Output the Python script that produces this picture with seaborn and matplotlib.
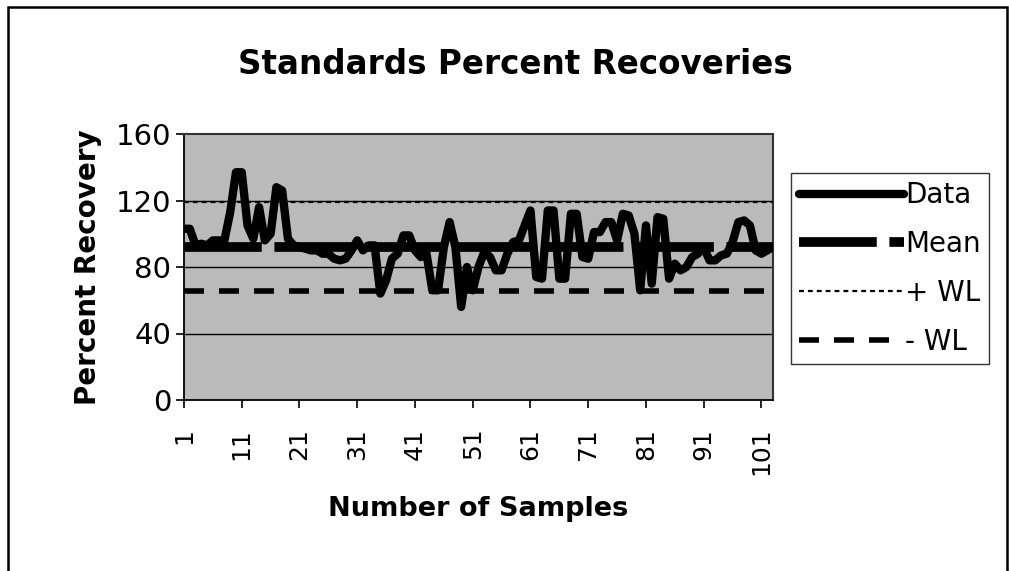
import numpy as np
import pandas as pd
import matplotlib
matplotlib.use("Agg")
import matplotlib.pyplot as plt
import seaborn as sns
from matplotlib.lines import Line2D
from matplotlib.patches import Rectangle

# ---- data ----
samples = list(range(1, 104))
recovery = [103, 103, 93, 94, 93, 96, 96, 96, 113, 137,
            137, 105, 97, 116, 96, 100, 128, 126, 97, 93,
            92, 91, 90, 90, 88, 88, 85, 84, 85, 90,
            96, 90, 93, 93, 64, 72, 85, 88, 99, 99,
            90, 86, 88, 66, 66, 92, 107, 92, 56, 80,
            66, 80, 89, 86, 78, 78, 88, 95, 96, 105,
            114, 74, 73, 114, 114, 73, 73, 112, 112, 86,
            85, 101, 101, 107, 107, 96, 112, 111, 100, 66,
            105, 70, 110, 109, 73, 82, 78, 80, 86, 88,
            92, 84, 84, 87, 88, 95, 107, 108, 105, 90,
            88, 90, 92]
mean_value = 92.3
plus_wl = 119.1
minus_wl = 65.5
y_ticks = [0, 40, 80, 120, 160]
x_tick_labels = [1, 11, 21, 31, 41, 51, 61, 71, 81, 91, 101]

df = pd.DataFrame({"Sample": samples, "Recovery": recovery})

sns.set_style("white")
plt.rcParams["font.family"] = ["DejaVu Sans"]
plt.rcParams["text.color"] = "black"
plt.rcParams["axes.labelcolor"] = "black"
plt.rcParams["xtick.color"] = "black"
plt.rcParams["ytick.color"] = "black"

fig = plt.figure(figsize=(10.09, 5.71), dpi=100)
ax = fig.add_axes([184 / 1009, 1 - 400 / 571, 589 / 1009, 266 / 571])
ax.set_facecolor("#bababa")

for g in [40, 80, 120]:
    ax.axhline(g, color="black", lw=1.0, zorder=1)

sns.lineplot(data=df, x="Sample", y="Recovery", color="black", lw=6,
             ax=ax, zorder=4, legend=False)
ax.axhline(mean_value, color="black", lw=7, dashes=(8, 1.3), zorder=3)
ax.axhline(plus_wl, color="black", lw=1.6, dashes=(2.2, 1.8), zorder=3)
ax.axhline(minus_wl, color="black", lw=4, dashes=(3.6, 2.7), zorder=3)

ax.set_xlim(1, 103)
ax.set_ylim(0, 160)
ax.set_yticks(y_ticks)
ax.set_yticklabels([str(v) for v in y_ticks], fontsize=21, color="black")
ax.set_xticks(x_tick_labels)
ax.set_xticklabels([str(v) for v in x_tick_labels], fontsize=18, rotation=90,
                   color="black")
ax.tick_params(axis="both", direction="out", length=6, width=1.2, color="black",
               left=True, bottom=True)
ax.tick_params(axis="x", pad=14)
ax.tick_params(axis="y", pad=3)

for s in ["left", "bottom"]:
    ax.spines[s].set_color("black")
    ax.spines[s].set_linewidth(1.3)
for s in ["top", "right"]:
    ax.spines[s].set_color("#333333")
    ax.spines[s].set_linewidth(1.5)
    ax.spines[s].set_linestyle((0, (1, 1)))

ax.set_xlabel("Number of Samples", fontsize=19.5, fontweight="bold", labelpad=15,
              color="black")
ax.set_ylabel("Percent Recovery", fontsize=20, fontweight="bold", labelpad=10,
              color="black")
fig.text(515 / 1009, 1 - 65 / 571, "Standards Percent Recoveries",
         fontsize=23.5, fontweight="bold", ha="center", va="center", color="black")

handles = [
    Line2D([], [], color="black", lw=6),
    Line2D([], [], color="black", lw=7, dashes=(8, 1.3)),
    Line2D([], [], color="black", lw=1.6, dashes=(2.2, 1.8)),
    Line2D([], [], color="black", lw=4, dashes=(3.6, 2.7)),
]
leg = fig.legend(handles, ["Data", "Mean", "+ WL", "- WL"],
                 loc="upper left", bbox_to_anchor=(791 / 1009, 1 - 173 / 571),
                 fontsize=20, frameon=True, fancybox=False, edgecolor="black",
                 handlelength=3.75, handletextpad=0.05, labelspacing=0.75,
                 borderpad=0.3, borderaxespad=0, labelcolor="black")
leg.get_frame().set_linewidth(1.0)

fig.patches.append(Rectangle((8 / 1009, -0.02), 999 / 1009, 1 - 7 / 571 + 0.02,
                             transform=fig.transFigure, fill=False,
                             edgecolor="black", lw=1.8))

fig.savefig("out.png", dpi=100)
